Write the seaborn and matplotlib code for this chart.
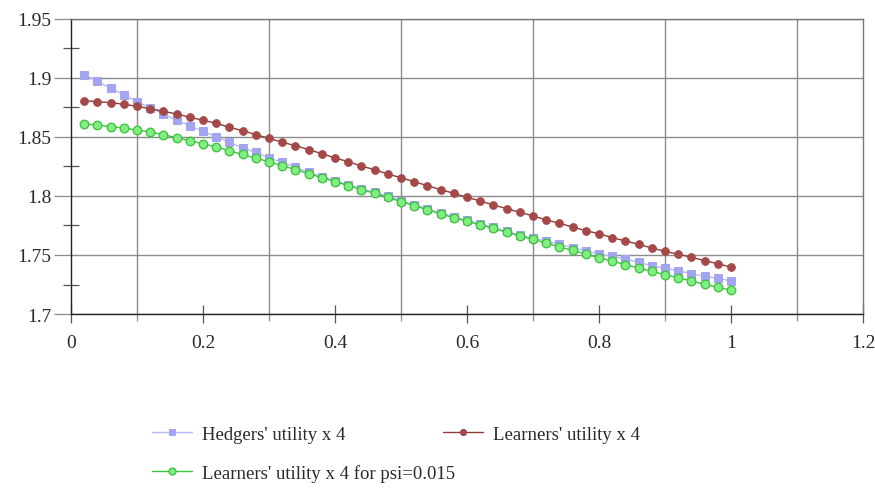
import matplotlib
matplotlib.use("Agg")
import matplotlib.pyplot as plt
from matplotlib.ticker import FixedLocator
import seaborn as sns
import pandas as pd

# psi values on the horizontal axis
psi = [0.02, 0.04, 0.06, 0.08, 0.10, 0.12, 0.14, 0.16, 0.18, 0.20,
       0.22, 0.24, 0.26, 0.28, 0.30, 0.32, 0.34, 0.36, 0.38, 0.40,
       0.42, 0.44, 0.46, 0.48, 0.50, 0.52, 0.54, 0.56, 0.58, 0.60,
       0.62, 0.64, 0.66, 0.68, 0.70, 0.72, 0.74, 0.76, 0.78, 0.80,
       0.82, 0.84, 0.86, 0.88, 0.90, 0.92, 0.94, 0.96, 0.98, 1.00]

hedgers = [1.9028, 1.8972, 1.8913, 1.8858, 1.8799, 1.8746, 1.8695, 1.8642, 1.8596, 1.8548,
           1.8503, 1.8455, 1.8407, 1.8370, 1.8322, 1.8286, 1.8243, 1.8201, 1.8164, 1.8130,
           1.8096, 1.8062, 1.8031, 1.7997, 1.7961, 1.7926, 1.7892, 1.7856, 1.7825, 1.7793,
           1.7762, 1.7734, 1.7700, 1.7669, 1.7643, 1.7619, 1.7591, 1.7562, 1.7536, 1.7508,
           1.7489, 1.7466, 1.7438, 1.7409, 1.7387, 1.7367, 1.7342, 1.7319, 1.7303, 1.7280]

learners = [1.8808, 1.8799, 1.8791, 1.8777, 1.8760, 1.8740, 1.8718, 1.8695, 1.8667, 1.8642,
            1.8616, 1.8582, 1.8554, 1.8520, 1.8489, 1.8455, 1.8427, 1.8393, 1.8359, 1.8322,
            1.8291, 1.8254, 1.8223, 1.8186, 1.8155, 1.8121, 1.8088, 1.8054, 1.8023, 1.7989,
            1.7958, 1.7924, 1.7893, 1.7862, 1.7831, 1.7797, 1.7769, 1.7737, 1.7706, 1.7681,
            1.7647, 1.7619, 1.7591, 1.7559, 1.7531, 1.7506, 1.7481, 1.7452, 1.7426, 1.7398]

learners_psi015 = [1.8610, 1.8602, 1.8587, 1.8576, 1.8559, 1.8542, 1.8519, 1.8494, 1.8469, 1.8443,
                   1.8415, 1.8384, 1.8352, 1.8320, 1.8291, 1.8257, 1.8224, 1.8190, 1.8155, 1.8122,
                   1.8088, 1.8054, 1.8023, 1.7989, 1.7952, 1.7918, 1.7884, 1.7847, 1.7816, 1.7785,
                   1.7754, 1.7726, 1.7692, 1.7661, 1.7633, 1.7602, 1.7568, 1.7540, 1.7508, 1.7477,
                   1.7449, 1.7418, 1.7390, 1.7362, 1.7333, 1.7308, 1.7280, 1.7252, 1.7226, 1.7201]

labels = ["Hedgers' utility x 4",
          "Learners' utility x 4",
          "Learners' utility x 4 for psi=0.015"]

x_major = [0, 0.2, 0.4, 0.6, 0.8, 1.0, 1.2]
x_major_labels = ["0", "0.2", "0.4", "0.6", "0.8", "1", "1.2"]
x_minor = [0.1, 0.3, 0.5, 0.7, 0.9, 1.1]
y_major = [1.70, 1.75, 1.80, 1.85, 1.90, 1.95]
y_major_labels = ["1.7", "1.75", "1.8", "1.85", "1.9", "1.95"]
y_minor = [1.725, 1.775, 1.825, 1.875, 1.925]

df = pd.DataFrame({"psi": psi, "hedgers": hedgers,
                   "learners": learners, "learners_psi": learners_psi015})

sns.set_style("white")
plt.rcParams["font.family"] = ["Liberation Serif", "DejaVu Serif"]
TEXT = "#2a2a2a"

fig = plt.figure(figsize=(8.75, 5.02), dpi=100)
ax = fig.add_axes([0.0811, 0.3725, 0.9052, 0.5877])

sns.lineplot(data=df, x="psi", y="hedgers", ax=ax, color="#b9b9f2", lw=1.0,
             marker="s", markersize=6, markerfacecolor="#a3a5f0",
             markeredgecolor="#a3a5f0", zorder=3)
sns.lineplot(data=df, x="psi", y="learners", ax=ax, color="#8e3a3a", lw=1.0,
             marker="o", markersize=5.5, markerfacecolor="#a44848",
             markeredgecolor="#a44848", zorder=4)
sns.lineplot(data=df, x="psi", y="learners_psi", ax=ax, color="#3cc83c", lw=1.0,
             marker="o", markersize=6.2, markerfacecolor="#80ee80",
             markeredgecolor="#3cbf3c", markeredgewidth=0.9, zorder=5)
lines = ax.get_lines()

ax.set_xlim(0, 1.2)
ax.set_ylim(1.7, 1.95)
ax.set_xlabel("")
ax.set_ylabel("")

# x: labelled ticks every 0.2, gridlines on the odd tenths
ax.xaxis.set_major_locator(FixedLocator(x_major))
ax.xaxis.set_minor_locator(FixedLocator(x_minor))
ax.set_xticklabels(x_major_labels)
# y: labelled ticks with gridlines every 0.05, short crossing ticks between
ax.yaxis.set_major_locator(FixedLocator(y_major))
ax.yaxis.set_minor_locator(FixedLocator(y_minor))
ax.set_yticklabels(y_major_labels)

ax.grid(False)
ax.xaxis.grid(True, which="minor", color="#8c8c8c", lw=1.0)
ax.yaxis.grid(True, which="major", color="#8c8c8c", lw=1.0)

ax.tick_params(axis="x", which="major", direction="inout", length=13, width=0.9,
               color="#555555", pad=8, labelsize=14, labelcolor=TEXT)
ax.tick_params(axis="x", which="minor", direction="out", length=5, width=0.9,
               color="#8c8c8c")
ax.tick_params(axis="y", which="major", direction="out", length=12, width=0.9,
               color="#8c8c8c", pad=2, labelsize=14, labelcolor=TEXT)
ax.tick_params(axis="y", which="minor", direction="inout", length=12, width=0.9,
               color="#555555")
ax.tick_params(which="both", left=True, bottom=True)

for side in ["left", "bottom"]:
    ax.spines[side].set_color("#222222")
    ax.spines[side].set_linewidth(1.0)
for side in ["top", "right"]:
    ax.spines[side].set_color("#777777")
    ax.spines[side].set_linewidth(1.0)

# legend entries laid out in two rows below the plot
leg_kw = dict(frameon=False, loc="center left", borderpad=0, borderaxespad=0,
              handlelength=2.15, handletextpad=0.5, numpoints=1, markerscale=0.8,
              prop={"size": 13.5}, labelcolor=TEXT)
entries = [(lines[0], labels[0], (0.1737, 0.1335)),
           (lines[1], labels[1], (0.5063, 0.1335)),
           (lines[2], labels[2], (0.1737, 0.0558))]
for handle, text, anchor in entries:
    fig.legend([handle], [text], bbox_to_anchor=anchor, **leg_kw)

fig.savefig("out.png", dpi=100)
